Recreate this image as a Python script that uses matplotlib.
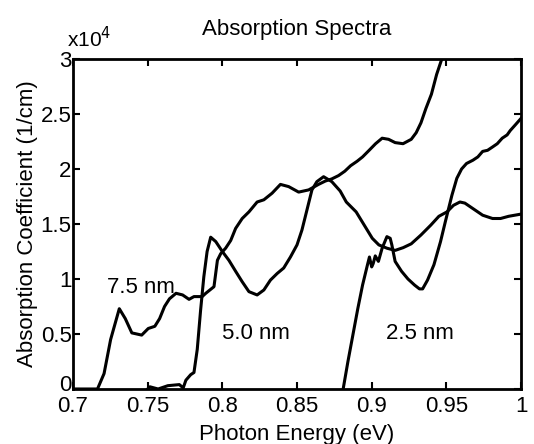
import matplotlib
matplotlib.use("Agg")
import matplotlib.pyplot as plt
import matplotlib.transforms as mtransforms

plt.rcParams["font.family"] = ["Liberation Sans", "DejaVu Sans"]
plt.rcParams["font.size"] = 16

# 7.5 nm curve (photon energy in eV, absorption in units of 1e4 1/cm)
e_75 = [0.700, 0.7164, 0.7208, 0.7252, 0.7310, 0.7350, 0.7394, 0.7460, 0.7504,
        0.7548, 0.7580, 0.7613, 0.7646, 0.7690, 0.7734, 0.7777, 0.7810, 0.7865,
        0.7889, 0.7944, 0.7967, 0.7989, 0.8022, 0.8056, 0.8089, 0.8133, 0.8178,
        0.8233, 0.8278, 0.8333, 0.8389, 0.8444, 0.8511, 0.8578, 0.8644, 0.8689,
        0.8733, 0.8778, 0.8820, 0.8859, 0.8902, 0.8939, 0.8983, 0.9026, 0.9070,
        0.9113, 0.9157, 0.9210, 0.9265, 0.9298, 0.9330, 0.9363, 0.9400, 0.9435,
        0.9467, 0.9480]
a_75 = [0.0, 0.0, 0.14, 0.45, 0.73, 0.64, 0.51, 0.49, 0.55,
        0.57, 0.64, 0.75, 0.82, 0.87, 0.855, 0.815, 0.84, 0.84,
        0.87, 0.93, 1.17, 1.23, 1.28, 1.35, 1.46, 1.55, 1.61,
        1.70, 1.72, 1.78, 1.86, 1.84, 1.79, 1.81, 1.86, 1.89,
        1.91, 1.94, 1.98, 2.03, 2.07, 2.11, 2.17, 2.23, 2.28,
        2.27, 2.24, 2.23, 2.27, 2.33, 2.42, 2.55, 2.68, 2.86,
        2.99, 3.05]

# 5.0 nm curve
e_50 = [0.750, 0.7515, 0.7570, 0.7635, 0.7712, 0.7738, 0.7756, 0.7788, 0.7810,
        0.7832, 0.7854, 0.7876, 0.7898, 0.7922, 0.7956, 0.8000, 0.8044, 0.8089,
        0.8133, 0.8178, 0.8233, 0.8278, 0.8322, 0.8367, 0.8411, 0.8456, 0.8500,
        0.8533, 0.8567, 0.8600, 0.8633, 0.8678, 0.8733, 0.8789, 0.8830, 0.8896,
        0.8950, 0.9004, 0.9048, 0.9102, 0.9157, 0.9211, 0.9265, 0.9330, 0.9396,
        0.9450, 0.9504, 0.9548, 0.9591, 0.9624, 0.9678, 0.9743, 0.9809, 0.9863,
        0.9917, 1.000]
a_50 = [0.0, 0.02, 0.0, 0.03, 0.04, 0.01, 0.08, 0.13, 0.15,
        0.36, 0.71, 1.02, 1.25, 1.38, 1.34, 1.25, 1.17, 1.07,
        0.975, 0.885, 0.855, 0.90, 0.99, 1.05, 1.10, 1.20, 1.31,
        1.445, 1.63, 1.81, 1.885, 1.93, 1.885, 1.80, 1.70, 1.61,
        1.49, 1.37, 1.31, 1.28, 1.26, 1.285, 1.32, 1.40, 1.49,
        1.57, 1.61, 1.67, 1.70, 1.69, 1.64, 1.58, 1.55, 1.55,
        1.57, 1.59]

# 2.5 nm curve
e_25 = [0.8809, 0.8841, 0.8874, 0.8907, 0.8939, 0.8972, 0.8985, 0.9000, 0.9010,
        0.9024, 0.9045, 0.9070, 0.9102, 0.9124, 0.9135, 0.9157, 0.9200, 0.9243,
        0.9287, 0.9320, 0.9341, 0.9374, 0.9417, 0.9461, 0.9493, 0.9515, 0.9537,
        0.9570, 0.9602, 0.9635, 0.9678, 0.9711, 0.9743, 0.9776, 0.9809, 0.9841,
        0.9874, 0.9907, 0.9928, 0.9961, 1.000]
a_25 = [0.0, 0.25, 0.49, 0.73, 0.945, 1.13, 1.20, 1.11, 1.14,
        1.21, 1.16, 1.28, 1.385, 1.37, 1.31, 1.16, 1.07, 1.00,
        0.945, 0.91, 0.91, 0.99, 1.13, 1.34, 1.52, 1.64, 1.76,
        1.915, 2.00, 2.05, 2.08, 2.11, 2.16, 2.17, 2.20, 2.23,
        2.28, 2.31, 2.35, 2.40, 2.46]

labels = ["7.5 nm", "5.0 nm", "2.5 nm"]
label_pos = [(0.7455, 0.92), (0.8226, 0.50), (0.9324, 0.50)]

x_ticks = [0.7, 0.75, 0.8, 0.85, 0.9, 0.95, 1.0]
x_ticklabels = ["0.7", "0.75", "0.8", "0.85", "0.9", "0.95", "1"]
y_ticks = [0, 0.5, 1, 1.5, 2, 2.5, 3]
y_ticklabels = ["0", "0.5", "1", "1.5", "2", "2.5", "3"]

fig = plt.figure(figsize=(5.34, 4.44), dpi=100)
ax = fig.add_axes([0.1367, 0.1239, 0.8390, 0.7432])

for e, a in [(e_75, a_75), (e_50, a_50), (e_25, a_25)]:
    ax.plot(e, a, color="black", linewidth=2.2, solid_joinstyle="round")

for text, (x, y) in zip(labels, label_pos):
    ax.text(x, y, text, ha="center", va="center")

ax.set_xlim(0.7, 1.0)
ax.set_ylim(0, 3)
ax.set_xticks(x_ticks)
ax.set_xticklabels(x_ticklabels)
ax.set_yticks(y_ticks)
ax.set_yticklabels(y_ticklabels)
ax.tick_params(direction="in", length=5, width=1.5, top=True, right=True)
ax.tick_params(axis="x", pad=5)
ax.tick_params(axis="y", pad=1)
for s in ax.spines.values():
    s.set_linewidth(2)

# the "0" on the y axis sits a little higher so it clears "0.7"
lbl0 = ax.get_yticklabels()[0]
lbl0.set_transform(lbl0.get_transform() +
                   mtransforms.ScaledTranslation(0, 4 / 72, fig.dpi_scale_trans))

ax.text(-0.014, 1.025, r"x10$^{4}$", transform=ax.transAxes, ha="left",
        va="bottom", fontsize=15)
ax.text(0.5, 1.09, "Absorption Spectra", transform=ax.transAxes,
        ha="center", va="center")
ax.set_xlabel("Photon Energy (eV)", labelpad=5)
ax.set_ylabel("Absorption Coefficient (1/cm)", labelpad=2)

fig.savefig("out.png", dpi=100)
